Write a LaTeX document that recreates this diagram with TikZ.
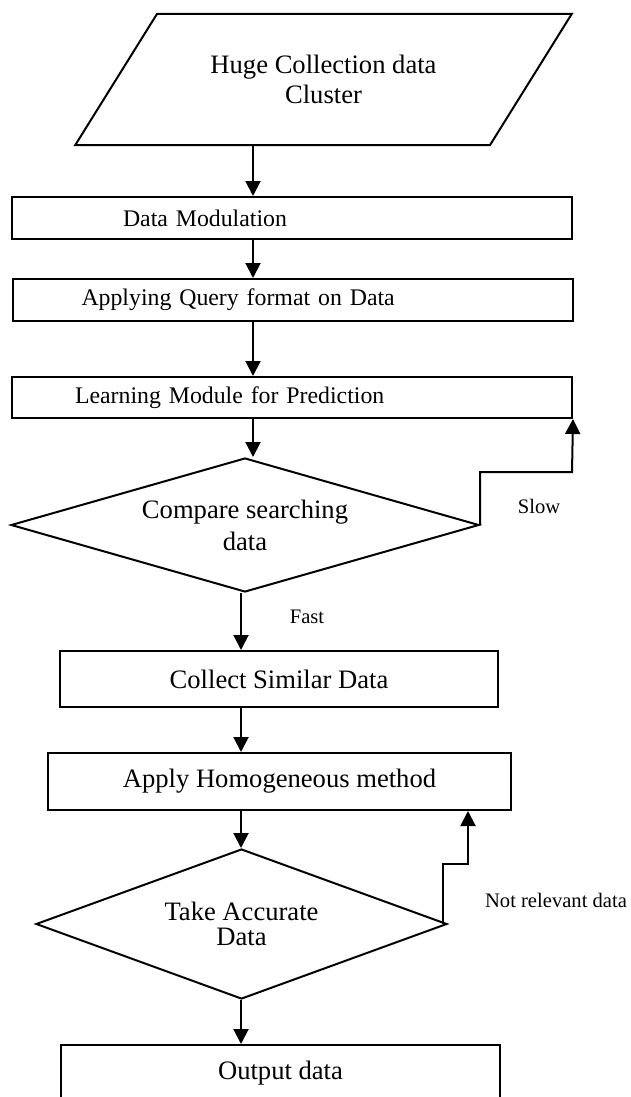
\documentclass[tikz,border=0pt]{standalone}
\usepackage{fontspec}
\setmainfont{Liberation Serif}
\usetikzlibrary{arrows.meta, shapes.geometric}

\begin{document}
\begin{tikzpicture}[
x=0.5pt, y=-0.5pt,
line width=1pt,
box/.style={draw,
rectangle,
inner sep=0pt,
align=center,
font=\fontsize{13.3}{15}\selectfont},
widebox/.style={draw,
rectangle,
inner sep=0pt,
minimum width=280pt,
text width=280pt,
align=left,
font=\fontsize{11.9}{14}\selectfont},
inputbox/.style={draw,
trapezium,
trapezium left angle=46.6,
trapezium right angle=133.4,
trapezium stretches=true,
align=center,
font=\fontsize{13.3}{15}\selectfont},
decision/.style={draw,
diamond,
aspect=3,
inner sep=0pt,
align=center,
font=\fontsize{13.3}{16}\selectfont},
note/.style={font=\fontsize{10.3}{12}\selectfont},
arrow/.style={-{Triangle[length=7.5pt, width=7.5pt]}}
]

\clip (0,0) rectangle (631,1097);

\node[inputbox, minimum width=248.5pt, minimum height=65.5pt] (input) at (323.5,79.5) {Huge Collection data\\Cluster};
\node[widebox, minimum height=21pt] (dm) at (292,218) {\hspace*{55.5pt}Data Modulation};
\node[widebox, minimum height=21pt] (query) at (292.5,300) {\hspace*{34.5pt}Applying Query format on Data};
\node[widebox, minimum height=20.5pt] (learn) at (292,397.5) {\hspace*{31.5pt}Learning Module for Prediction};
\node[decision, minimum width=234pt, minimum height=67pt] (compare) at (245,525) {Compare searching\\data};
\node[box, minimum width=219pt, minimum height=28pt] (collect) at (279,679) {Collect Similar Data};
\node[box, minimum width=231.5pt, minimum height=28.5pt] (apply) at (279.5,781.5) {Apply Homogeneous method};
\node[decision, minimum width=205.5pt, minimum height=75pt, font=\fontsize{13.3}{12.5}\selectfont] (accurate) at (241.5,924) {Take Accurate\\Data};
\node[box, minimum width=219.5pt, minimum height=28pt] (output) at (280.5,1073) {Output data};

\node[note] (slow) at (539,506) {Slow};
\node[note] (fast) at (307,617) {Fast};
\node[note] (notrel) at (556,900) {Not relevant data};

\coordinate (upper) at (253,0);
\coordinate (lower) at (241,0);
\coordinate (slowturn) at (572,472);
\coordinate (nrturn) at (468,864);

\draw[arrow] (input.south -| upper) -- (dm.north -| upper);
\draw[arrow] (dm.south -| upper) -- (query.north -| upper);
\draw[arrow] (query.south -| upper) -- (learn.north -| upper);
\draw[arrow] (learn.south -| upper) -- (compare.north -| upper);
\draw[arrow] (compare.south -| lower) -- (collect.north -| lower);
\draw[arrow] (collect.south -| lower) -- (apply.north -| lower);
\draw[arrow] (apply.south -| lower) -- (accurate.north -| lower);
\draw[arrow] (accurate.south -| lower) -- (output.north -| lower);

\draw[arrow] (compare.east) |- (slowturn) -- (learn.south east);
\draw[arrow] ([xshift=-2.5pt]accurate.east) |- (nrturn) -- (apply.south -| nrturn);

\end{tikzpicture}
\end{document}
